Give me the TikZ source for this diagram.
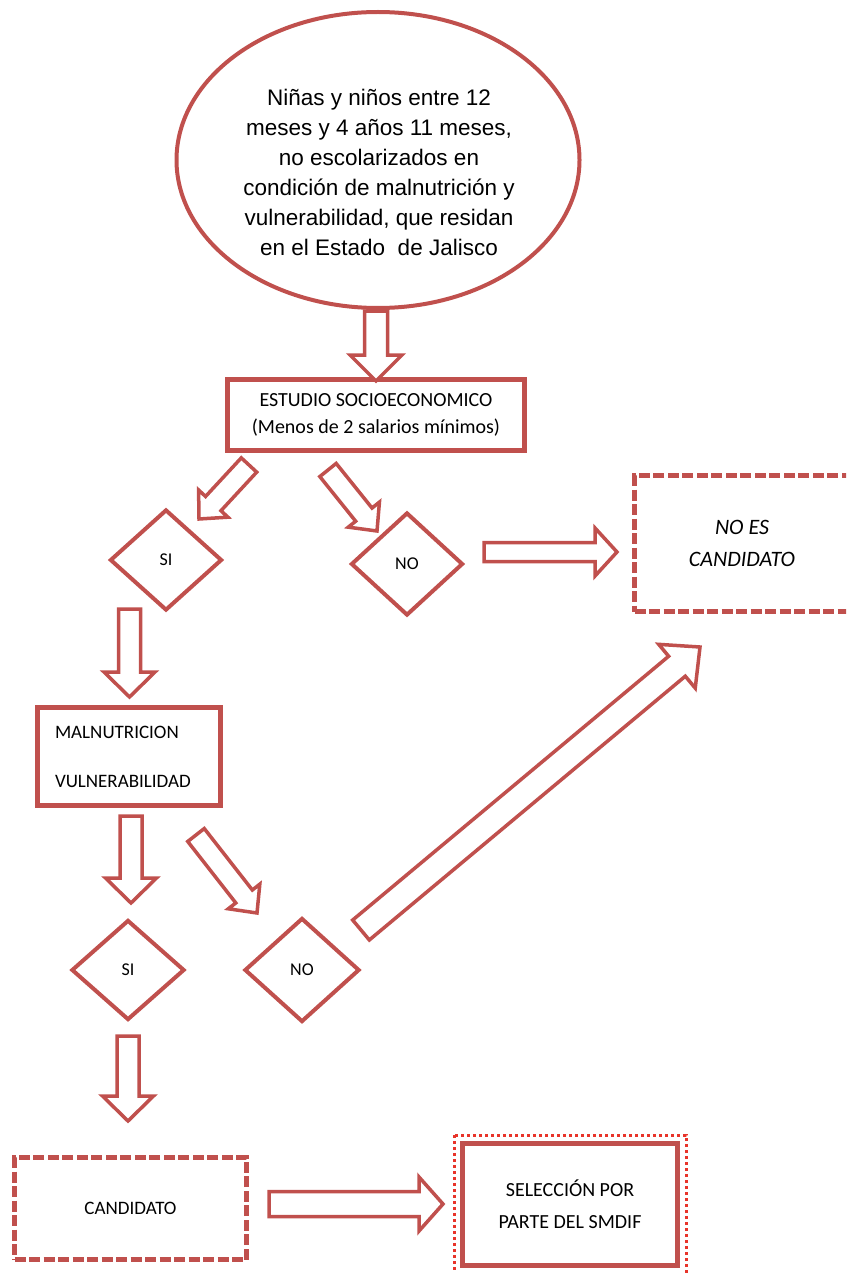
\documentclass[tikz,border=0pt]{standalone}
\usepackage{fontspec}
\setmainfont{Carlito}
\newfontfamily\arialfont{Liberation Sans}
\usetikzlibrary{calc,shapes.geometric}

\definecolor{rojo}{HTML}{C0504D}
\definecolor{rojovivo}{HTML}{E8342A}

\tikzset{
  caja/.style={draw=rojo, line width=5pt, rectangle, inner sep=0pt, align=center,
    font=\fontsize{20}{27}\selectfont},
  cajapunt/.style={caja, dash pattern=on 11pt off 3.5pt},
  rombo/.style={draw=rojo, line width=4pt, diamond, inner sep=0pt,
    font=\fontsize{18}{20}\selectfont},
  flecha/.style={draw=rojo, line width=3.5pt, fill=white, line join=miter},
}

% block arrow: from, to, half shaft width, half head width, head length
\newcommand{\flechabloque}[5]{%
  \path ($(#2)!#5!(#1)$) coordinate (fb);
  \draw[flecha] ($(#1)!#3!90:(#2)$) -- ($(fb)!#3!90:(#2)$) -- ($(fb)!#4!90:(#2)$) -- (#2)
    -- ($(fb)!#4!-90:(#2)$) -- ($(fb)!#3!-90:(#2)$) -- ($(#1)!#3!-90:(#2)$) -- cycle;
}

\begin{document}
\begin{tikzpicture}[x=1pt, y=-1pt]

    \useasboundingbox (0,0) rectangle (846,1273);
    \clip (0,0) rectangle (846,1273);

    % Ellipse with the target group
    \node[draw=rojo, line width=4pt, ellipse, minimum width=403pt, minimum height=296pt] (grupo) at (378,160) {};
    \node[align=center, font=\arialfont\fontsize{22.5}{30}\selectfont] (grupotxt) at (379,172)
      {Niñas y niños entre 12\\ meses y 4 años 11 meses,\\ no escolarizados en\\ condición de malnutrición y\\ vulnerabilidad, que residan\\ en el Estado\ \ de Jalisco};

    % Socioeconomic study
    \node[caja, minimum width=297pt, minimum height=71pt] (estudio) at (376,415)
      {ESTUDIO SOCIOECONOMICO\\(Menos de 2 salarios mínimos)};

    % First decision
    \node[rombo, minimum width=112pt, minimum height=101pt] (si1) at (166,560) {SI};
    \node[rombo, minimum width=112pt, minimum height=103pt] (no1) at (407,564) {NO};
    \node[cajapunt, minimum width=215pt, minimum height=136pt,
      font=\itshape\fontsize{22}{32}\selectfont] (noes) at (742,543.5) {NO ES\\CANDIDATO};

    % Malnutrition and vulnerability
    \node[caja, minimum width=183pt, minimum height=98pt, text width=148pt, align=left,
      font=\fontsize{19}{49}\selectfont] (malnut) at (129,756.5) {MALNUTRICION\\VULNERABILIDAD};

    % Second decision
    \node[rombo, minimum width=113pt, minimum height=100pt] (si2) at (128,970) {SI};
    \node[rombo, minimum width=115pt, minimum height=104pt] (no2) at (302,970) {NO};

    % Final boxes
    \node[cajapunt, minimum width=232pt, minimum height=102pt,
      font=\fontsize{19}{24}\selectfont] (cand) at (130.5,1208.5) {CANDIDATO};
    \node[caja, minimum width=215pt, minimum height=122pt,
      font=\fontsize{20}{32}\selectfont] (selec) at (570,1204.5) {SELECCIÓN POR\\PARTE DEL SMDIF};
    \draw[rojovivo, line width=3pt, dash pattern=on 3pt off 3pt]
      ($(selec.north west)+(-6,-6)$) rectangle ($(selec.south east)+(6,6)$);

    % Arrow end points
    \coordinate (a1i) at (376,311);   \coordinate (a1f) at (376,381);
    \coordinate (a2i) at (249,465);   \coordinate (a2f) at (199,519);
    \coordinate (a3i) at (328,470);   \coordinate (a3f) at (377,531);
    \coordinate (a4i) at (484,552);   \coordinate (a4f) at (617,552);
    \coordinate (a5i) at (129.5,609); \coordinate (a5f) at (129.5,697);
    \coordinate (a6i) at (131,816);   \coordinate (a6f) at (131,903);
    \coordinate (a7i) at (196,835);   \coordinate (a7f) at (257,913);
    \coordinate (a8i) at (361,930);   \coordinate (a8f) at (700,647);
    \coordinate (a9i) at (128,1036);  \coordinate (a9f) at (128,1121);
    \coordinate (a10i) at (269,1204); \coordinate (a10f) at (443,1204);

    % Block arrows
    \flechabloque{a1i}{a1f}{11.5pt}{26pt}{26pt}
    \flechabloque{a2i}{a2f}{10.5pt}{20pt}{21pt}
    \flechabloque{a3i}{a3f}{10.5pt}{20pt}{21pt}
    \flechabloque{a4i}{a4f}{9.5pt}{24pt}{22pt}
    \flechabloque{a5i}{a5f}{11pt}{25.5pt}{25pt}
    \flechabloque{a6i}{a6f}{11pt}{25.5pt}{25pt}
    \flechabloque{a7i}{a7f}{10.5pt}{20pt}{21pt}
    \flechabloque{a8i}{a8f}{13pt}{28.5pt}{30pt}
    \flechabloque{a9i}{a9f}{11pt}{25.5pt}{25pt}
    \flechabloque{a10i}{a10f}{12.5pt}{27pt}{24pt}

\end{tikzpicture}
\end{document}
